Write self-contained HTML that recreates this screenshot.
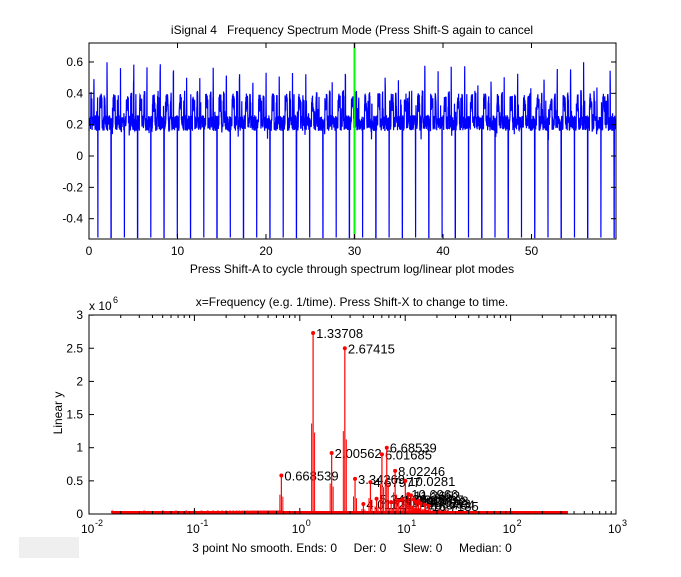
<!DOCTYPE html>
<html><head><style>
body{margin:0;background:#fff;}
svg{display:block;font-family:"Liberation Sans",sans-serif;}
text{white-space:pre;}
</style></head><body>
<svg id="s" width="681" height="577" xmlns="http://www.w3.org/2000/svg">
<rect x="19" y="537" width="60" height="21" fill="#efefef"/>
<text x="352" y="34" font-size="12" text-anchor="middle">iSignal 4   Frequency Spectrum Mode (Press Shift-S again to cancel</text>
<text x="352" y="273" font-size="12" text-anchor="middle">Press Shift-A to cycle through spectrum log/linear plot modes</text>
<text x="352" y="306" font-size="12" text-anchor="middle">x=Frequency (e.g. 1/time). Press Shift-X to change to time.</text>
<text x="352" y="552" font-size="12" text-anchor="middle">3 point No smooth. Ends: 0     Der: 0     Slew: 0     Median: 0</text>
<text x="89" y="310" font-size="12">x 10</text><text x="113" y="303" font-size="9">6</text>
<text transform="translate(62,413) rotate(-90)" font-size="12" text-anchor="middle">Linear y</text>
<g id="gtop"></g>
<g id="gbot"></g>
</svg>
<script>
(function(){
var NS="http://www.w3.org/2000/svg";
function el(p,t,a,txt){var e=document.createElementNS(NS,t);for(var k in a)e.setAttribute(k,a[k]);if(txt!=null)e.textContent=txt;p.appendChild(e);return e;}
var gt=document.getElementById('gtop'),gb=document.getElementById('gbot');
var L=89,R=616,T=43,B=239;
function ty(v){return 156-v*156.7;}
function tx(t){return L+t*8.85;}
var seed=7;function rnd(){seed=(seed*16807)%2147483647;return seed/2147483647;}
var pts=[];var per=1.4958;
for(var i=0;i<=3560;i++){var t=i*59.5/3560;var ph=((t+per-0.54)%per)/per;var v=0.21+(rnd()-0.5)*0.1;
 if(ph<0.025)v=0.3+rnd()*0.3;else if(ph>0.30&&ph<0.32)v=-0.52;else if(ph>0.45&&ph<0.62)v=0.28+rnd()*0.12;else if(ph>0.78&&ph<0.86)v=0.3+rnd()*0.12;
 else if(rnd()<0.05)v=0.1+rnd()*0.3;
 v=Math.max(-0.53,Math.min(0.72,v));pts.push(tx(t).toFixed(1)+","+ty(v).toFixed(1));}
el(gt,'polyline',{points:pts.join(' '),fill:'none',stroke:'#0000ff','stroke-width':1.2});
el(gt,'line',{x1:354.5,y1:T,x2:354.5,y2:B,stroke:'#00ff00','stroke-width':2});
el(gt,'rect',{x:L,y:T,width:R-L,height:B-T,fill:'none',stroke:'#000'});
[-0.4,-0.2,0,0.2,0.4,0.6].forEach(function(v){var y=ty(v);el(gt,'line',{x1:L,y1:y,x2:L+5,y2:y,stroke:'#000'});el(gt,'line',{x1:R-5,y1:y,x2:R,y2:y,stroke:'#000'});el(gt,'text',{x:L-6,y:y+4,'font-size':12,'text-anchor':'end'},v===0?'0':v.toFixed(1));});
[0,10,20,30,40,50].forEach(function(v){var x=tx(v);el(gt,'line',{x1:x,y1:B,x2:x,y2:B-5,stroke:'#000'});el(gt,'line',{x1:x,y1:T,x2:x,y2:T+5,stroke:'#000'});el(gt,'text',{x:x,y:B+16,'font-size':12,'text-anchor':'middle'},v);});
var T2=315,B2=514;
function bx(f){return L+(Math.log10(f)+2)*105.4;}
function by(v){return B2-v*66.3;}
el(gb,'rect',{x:bx(0.0167),y:B2-3,width:bx(350)-bx(0.0167),height:3,fill:'#ff0000'});
for(var k=1;k<=40;k++){var f=0.0167*k;el(gb,'circle',{cx:bx(f),cy:B2-2,r:1.5,fill:'#f00'});}
var pk=[[0.668539,0.58,'0.668539'],[1.33708,2.73,'1.33708'],[2.00562,0.92,'2.00562'],[2.67415,2.5,'2.67415'],[3.34269,0.53,'3.34269'],[4.01123,0.15,'4.01123'],[4.67977,0.48,'4.67977'],[5.34831,0.23,'5.34831'],[6.01685,0.9,'6.01685'],[6.68539,1.0,'6.68539'],[7.35393,0.18,'7.35393'],[8.02246,0.65,'8.02246'],[8.691,0.2,'8.691'],[9.35954,0.22,'9.35954'],[10.0281,0.5,'10.0281'],[10.6966,0.3,'10.6966'],[11.3652,0.28,'11.3652'],[12.0337,0.22,'12.0337'],[12.7022,0.18,'12.7022'],[13.3708,0.2,'13.3708'],[14.0393,0.16,'14.0393'],[15.3764,0.14,'15.3764'],[16.7135,0.12,'16.7135']];
for(var f=10;f<25;f+=0.35){el(gb,'line',{x1:bx(f),y1:B2,x2:bx(f),y2:by(0.03+0.05*rnd()),stroke:'#f00'});}
pk.forEach(function(p){var x=bx(p[0]),y=by(p[1]);
 el(gb,'line',{x1:x,y1:B2,x2:x,y2:y,stroke:'#f00','stroke-width':1.2});
 el(gb,'line',{x1:x-1.5,y1:B2,x2:x-1.5,y2:by(p[1]*0.5),stroke:'#f00'});
 el(gb,'line',{x1:x+1.5,y1:B2,x2:x+1.5,y2:by(p[1]*0.45),stroke:'#f00'});
 el(gb,'circle',{cx:x,cy:y,r:2,fill:'#f00'});
 el(gb,'text',{x:x+3,y:y+5,'font-size':13},p[2]);});
el(gb,'rect',{x:L,y:T2,width:R-L,height:B2-T2,fill:'none',stroke:'#000'});
[0,0.5,1,1.5,2,2.5,3].forEach(function(v){var y=by(v);el(gb,'line',{x1:L,y1:y,x2:L+5,y2:y,stroke:'#000'});el(gb,'line',{x1:R-5,y1:y,x2:R,y2:y,stroke:'#000'});el(gb,'text',{x:L-6,y:y+4,'font-size':12,'text-anchor':'end'},v);});
for(var d=-2;d<=3;d++){var x=L+(d+2)*105.4;el(gb,'line',{x1:x,y1:B2,x2:x,y2:B2-6,stroke:'#000'});el(gb,'line',{x1:x,y1:T2,x2:x,y2:T2+6,stroke:'#000'});
 el(gb,'text',{x:x-8,y:B2+19,'font-size':12},'10');el(gb,'text',{x:x+6,y:B2+12,'font-size':9},d);
 if(d<3)for(var m=2;m<10;m++){var xm=x+Math.log10(m)*105.4;el(gb,'line',{x1:xm,y1:B2,x2:xm,y2:B2-3,stroke:'#000'});el(gb,'line',{x1:xm,y1:T2,x2:xm,y2:T2+3,stroke:'#000'});}}
})();
</script>
</body></html>
